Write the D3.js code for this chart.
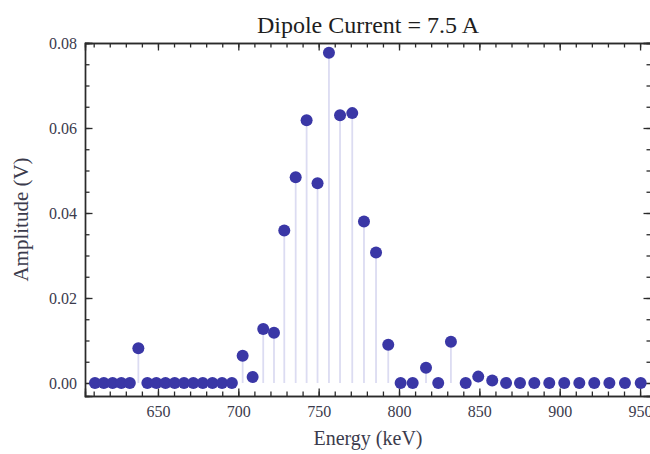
<!DOCTYPE html>
<html>
<head>
<meta charset="utf-8">
<script src="https://cdn.jsdelivr.net/npm/d3@7"></script>
<style>
  html, body { margin: 0; padding: 0; background: #fff; }
  svg { display: block; }
  text { font-family: "Liberation Serif", "Times New Roman", serif; }
</style>
</head>
<body>
<svg id="chart" width="650" height="454"></svg>
<script>
// Measured spectrum: beam energy (keV) and detector amplitude (V)
const energy = [
  610.8, 616.3, 621.8, 627.2, 632.5, 637.8,
  643.4, 649.0, 654.7, 660.4, 666.2, 672.0, 677.9, 683.9, 689.9, 696.0,
  702.7, 708.9, 715.5, 722.2, 728.6, 735.7, 742.5, 749.3, 756.4, 763.3,
  770.9, 778.2, 785.7, 793.3,
  801.0, 808.5, 816.8, 824.4, 832.3, 841.5, 849.3, 858.0, 866.6, 875.3,
  884.2, 893.5, 902.8, 912.2, 921.5, 930.9, 940.6, 950.4
];
const amplitude = [
  0, 0, 0, 0, 0, 0.0082,
  0, 0, 0, 0, 0, 0, 0, 0, 0, 0,
  0.0064, 0.0014, 0.0127, 0.0118, 0.0359, 0.0484, 0.0618, 0.0470, 0.0777, 0.0630,
  0.0635, 0.0380, 0.0307, 0.0090,
  0, 0, 0.0036, 0, 0.0097, 0, 0.0015, 0.0006, 0, 0,
  0, 0, 0, 0, 0, 0, 0, 0
];

const title = "Dipole Current = 7.5 A";
const xLabel = "Energy (keV)";
const yLabel = "Amplitude (V)";
const xMajorTicks = [650, 700, 750, 800, 850, 900, 950];
const yMajorTicks = [0, 0.02, 0.04, 0.06, 0.08];

const points = energy.map((e, i) => ({ e, a: amplitude[i] }));

const svg = d3.select("#chart");
const frame = { left: 85, right: 651, top: 43, bottom: 396 };

const x = d3.scaleLinear().domain([604.6, 956.8]).range([frame.left, frame.right]);
const y = d3.scaleLinear().domain([-0.00306, 0.08]).range([frame.bottom, frame.top]);

const frameColor = "#2a2a2a";
const labelColor = "#3b3b4c";
const tickFont = "16px";

// Stems from the zero level up to each point
svg.append("g")
  .selectAll("line")
  .data(points.filter(d => d.a > 0))
  .join("line")
  .attr("x1", d => x(d.e)).attr("x2", d => x(d.e))
  .attr("y1", y(0)).attr("y2", d => y(d.a))
  .attr("stroke", "#dcdcf2")
  .attr("stroke-width", 1.8);

// Frame axes: ticks point into the plot on all four sides
const xMinor = d3.range(610, 960, 10);
const yMinor = d3.range(0, 0.0801, 0.005);

function styleAxis(g) {
  g.select(".domain").attr("stroke", frameColor).attr("stroke-width", 1.4);
  g.selectAll(".tick line").attr("stroke", frameColor).attr("stroke-width", 1.3);
  g.selectAll(".tick text")
    .attr("fill", labelColor)
    .style("font-size", tickFont)
    .style("font-family", '"Liberation Serif", "Times New Roman", serif');
}

// bottom
svg.append("g").attr("transform", `translate(0,${frame.bottom})`)
  .call(d3.axisBottom(x).tickValues(xMinor).tickSize(-4.5).tickFormat(""))
  .call(styleAxis);
svg.append("g").attr("transform", `translate(0,${frame.bottom})`)
  .call(d3.axisBottom(x).tickValues(xMajorTicks).tickSize(-7.5).tickPadding(9.5).tickFormat(d3.format("d")))
  .call(styleAxis);
// top
svg.append("g").attr("transform", `translate(0,${frame.top})`)
  .call(d3.axisTop(x).tickValues(xMinor).tickSize(-4.5).tickFormat(""))
  .call(styleAxis);
svg.append("g").attr("transform", `translate(0,${frame.top})`)
  .call(d3.axisTop(x).tickValues(xMajorTicks).tickSize(-7.5).tickFormat(""))
  .call(styleAxis);
// left
svg.append("g").attr("transform", `translate(${frame.left},0)`)
  .call(d3.axisLeft(y).tickValues(yMinor).tickSize(-4.5).tickFormat(""))
  .call(styleAxis);
svg.append("g").attr("transform", `translate(${frame.left},0)`)
  .call(d3.axisLeft(y).tickValues(yMajorTicks).tickSize(-7.5).tickPadding(8).tickFormat(d3.format(".2f")))
  .call(styleAxis);
// right
svg.append("g").attr("transform", `translate(${frame.right},0)`)
  .call(d3.axisRight(y).tickValues(yMinor).tickSize(-4.5).tickFormat(""))
  .call(styleAxis);
svg.append("g").attr("transform", `translate(${frame.right},0)`)
  .call(d3.axisRight(y).tickValues(yMajorTicks).tickSize(-7.5).tickFormat(""))
  .call(styleAxis);

// Data points
svg.append("g")
  .selectAll("circle")
  .data(points)
  .join("circle")
  .attr("cx", d => x(d.e))
  .attr("cy", d => y(d.a))
  .attr("r", 6)
  .attr("fill", "#3a37a6");

// Title and axis labels
svg.append("text")
  .attr("x", (frame.left + frame.right) / 2)
  .attr("y", 33)
  .attr("text-anchor", "middle")
  .attr("fill", "#1e1e1e")
  .style("font-size", "24px")
  .text(title);

svg.append("text")
  .attr("x", (frame.left + frame.right) / 2)
  .attr("y", 445)
  .attr("text-anchor", "middle")
  .attr("fill", labelColor)
  .style("font-size", "20px")
  .text(xLabel);

svg.append("text")
  .attr("transform", `translate(28,${(frame.top + frame.bottom) / 2}) rotate(-90)`)
  .attr("text-anchor", "middle")
  .attr("fill", labelColor)
  .style("font-size", "21px")
  .text(yLabel);
</script>
</body>
</html>
